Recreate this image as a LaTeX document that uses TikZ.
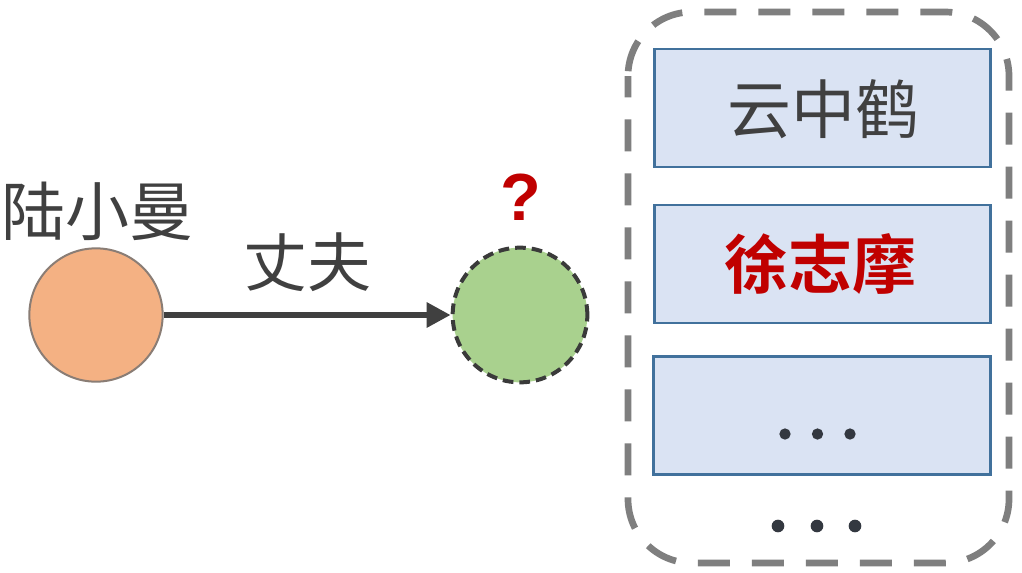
\documentclass[tikz,border=0pt]{standalone}
\usepackage{fontspec}
\newfontfamily\cjk{Noto Sans CJK SC}
\newfontfamily\cjkb{Noto Sans CJK SC Bold}
\newfontfamily\lsb{Liberation Sans Bold}
\usetikzlibrary{arrows.meta}
\definecolor{txtgray}{HTML}{404040}
\definecolor{orangefill}{HTML}{F4B183}
\definecolor{orangeline}{HTML}{8A7D75}
\definecolor{greenfill}{HTML}{A9D18E}
\definecolor{greenline}{HTML}{3A3A3A}
\definecolor{framegray}{HTML}{7F7F7F}
\definecolor{boxfill}{HTML}{DAE3F3}
\definecolor{boxline}{HTML}{41719C}
\definecolor{darkred}{HTML}{C00000}
\definecolor{dotcol}{HTML}{333840}
\begin{document}
\begin{tikzpicture}[x=0.75pt,y=-0.75pt,
  lbl/.style={inner sep=0pt,font=\cjk\fontsize{48}{48}\selectfont,text=txtgray},
  entity/.style={circle,inner sep=0pt,minimum size=100pt},
  candbox/.style={draw=boxline,line width=2.2pt,fill=boxfill,inner sep=0pt,
    minimum width=252.5pt,minimum height=88.5pt},
  dotmark/.style={circle,fill=dotcol,inner sep=0pt},
  rel/.style={line width=4.5pt,draw=txtgray,-{Triangle[length=18pt,width=18pt]}}
]
\useasboundingbox[fill=white] (0,0) rectangle (1022,572);
% dashed candidate frame
\draw[framegray,line width=5pt,dash pattern=on 24pt off 16.5pt,dash phase=8pt,
  rounded corners=48pt] (628,12) rectangle (1009,563);
% candidate boxes
\node[candbox] (b1) at (822.5,108) {};
\node[candbox] (b2) at (822.5,264) {};
\node[candbox] (b3) at (822,415.5) {};
\node[lbl] (t1) at (823,109) {云中鹤};
\node[lbl,font=\cjkb\fontsize{48}{48}\selectfont,text=darkred] (t2) at (820,264) {徐志摩};
\node[dotmark,minimum size=8.5pt] (d1) at (785,434) {};
\node[dotmark,minimum size=8.5pt] (d2) at (817.5,434) {};
\node[dotmark,minimum size=8.5pt] (d3) at (850,434) {};
\node[dotmark,minimum size=9.5pt] (e1) at (778,526) {};
\node[dotmark,minimum size=9.5pt] (e2) at (817,526) {};
\node[dotmark,minimum size=9.5pt] (e3) at (855,526) {};
% entities
\node[entity,fill=orangefill,draw=orangeline,line width=1.5pt] (lu) at (96,315) {};
\node[entity,minimum size=101pt,fill=greenfill,draw=greenline,line width=3pt,
  dash pattern=on 8pt off 4.5pt] (q) at (520,315) {};
\node[lbl] (lun) at (98,211) {陆小曼};
\node[inner sep=0pt,font=\lsb\fontsize{50}{50}\selectfont,text=darkred] (qm) at (521,197) {?};
% relation
\draw[rel] (lu) -- (q) node[midway,above=15pt,lbl] (rl) {丈夫};
\end{tikzpicture}
\end{document}
